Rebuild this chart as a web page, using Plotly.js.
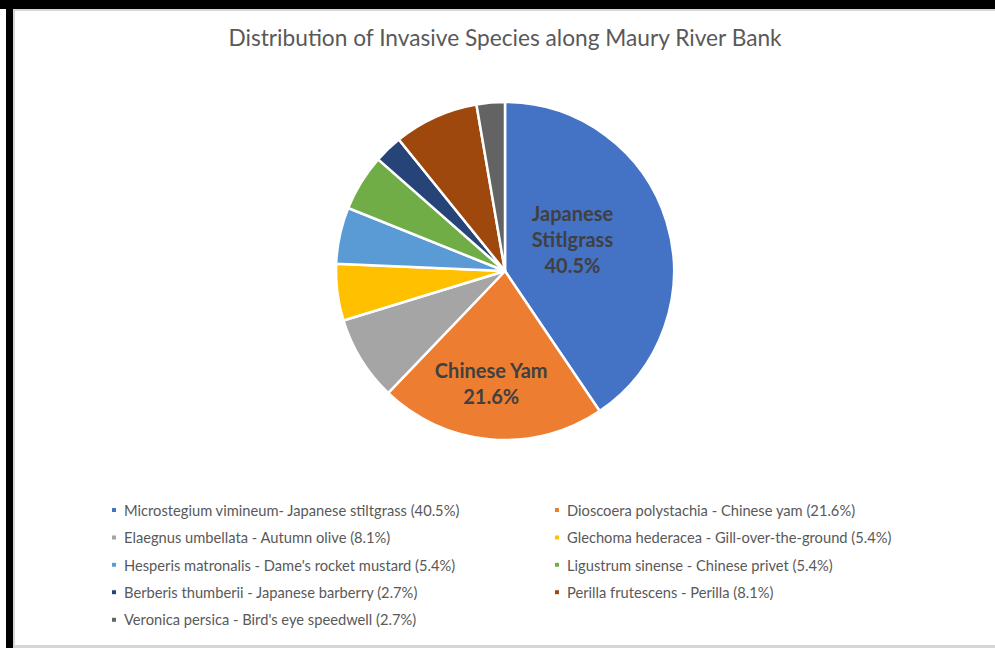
<!DOCTYPE html>
<html>
<head>
<meta charset="utf-8">
<script src="https://cdn.plot.ly/plotly-3.0.1.min.js"></script>
<style>
  html, body { margin: 0; padding: 0; background: #ffffff; overflow: hidden; }
  #page { position: relative; width: 995px; height: 648px; overflow: hidden; background: #ffffff; }
  #edgeTop { position: absolute; left: 0; top: 0; width: 995px; height: 9px; background: #000; z-index: 5; }
  #edgeLeft { position: absolute; left: 6px; top: 0; width: 7px; height: 648px; background: #000; z-index: 5; }
  #chart {
    position: absolute; left: 13px; top: 9px; width: 982px; height: 634px;
    border-top: 2px solid #d6d6d6; border-left: 2px solid #d6d6d6; border-bottom: 3px solid #d6d6d6;
    box-sizing: content-box;
  }
</style>
</head>
<body>
<div id="page">
  <div id="edgeTop"></div>
  <div id="edgeLeft"></div>
  <div id="chart"></div>
</div>
<script>
// Share of each invasive species (percent), clockwise from 12 o'clock
const species = [
  "Microstegium vimineum- Japanese stiltgrass",
  "Dioscoera polystachia - Chinese yam",
  "Elaegnus umbellata - Autumn olive",
  "Glechoma hederacea - Gill-over-the-ground",
  "Hesperis matronalis - Dame's rocket mustard",
  "Ligustrum sinense - Chinese privet",
  "Berberis thumberii - Japanese barberry",
  "Perilla frutescens - Perilla",
  "Veronica persica - Bird's eye speedwell"
];
const shares = [40.5, 21.6, 8.1, 5.4, 5.4, 5.4, 2.7, 8.1, 2.7];
const sliceNames = ["Japanese<br>Stitlgrass", "Chinese Yam", "", "", "", "", "", "", ""];
const colors = ["#4472C4", "#ED7D31", "#A5A5A5", "#FFC000", "#5B9BD5",
                "#70AD47", "#264478", "#9E480E", "#636363"];

const total = shares.reduce((a, b) => a + b, 0);
const legendLabels = species.map((s, i) => s + " (" + (shares[i] / total * 100).toFixed(1) + "%)");
const templates = sliceNames.map(n => n ? "<b>" + n + "<br>%{percent:.1%}</b>" : "");

const OX = 15, OY = 11;           // page offset of the plotting surface
const W = 982, H = 634;
const cx = 505 - OX, cy = 271 - OY, r = 169;
const FONT = "Lato, 'Open Sans', sans-serif";

// nudges for the in-slice labels, in px
const labelShift = [[-15, -7], [-5, 9]];

const trace = {
  type: "pie",
  labels: legendLabels,
  values: shares,
  sort: false,
  direction: "clockwise",
  rotation: 0,
  marker: { colors: colors, line: { color: "#ffffff", width: 2.5 } },
  texttemplate: templates,
  textposition: "inside",
  insidetextorientation: "horizontal",
  textfont: { family: FONT, size: 20, color: "#404040" },
  hoverinfo: "label",
  domain: {
    x: [(cx - r) / W, (cx + r) / W],
    y: [1 - (cy + r) / H, 1 - (cy - r) / H]
  }
};

const layout = {
  width: W, height: H,
  margin: { l: 0, r: 0, t: 0, b: 0 },
  paper_bgcolor: "#ffffff",
  title: {
    text: "Distribution of Invasive Species along Maury River Bank",
    font: { family: FONT, size: 22.7, color: "#595959" },
    x: (505 - OX) / W, xanchor: "center",
    y: 1 - (38 - OY) / H, yanchor: "middle"
  },
  showlegend: true,
  legend: {
    orientation: "h",
    x: (84 - OX) / W, xanchor: "left",
    y: 1 - (494 - OY) / H, yanchor: "top",
    entrywidth: 398, entrywidthmode: "pixels",
    traceorder: "normal",
    bgcolor: "rgba(0,0,0,0)",
    font: { family: FONT, size: 14.7, color: "#595959" }
  }
};

const ROW_STEP = 27.4;

Plotly.newPlot("chart", [trace], layout, { displayModeBar: false, staticPlot: true }).then(() => {
  const root = document.getElementById("chart");
  // small square swatches sitting close to their text
  root.querySelectorAll(".legendpoints path").forEach(p => {
    p.setAttribute("transform", "translate(30,0) scale(0.42)");
  });
  // wider spacing between legend rows
  const items = Array.from(root.querySelectorAll(".legend .traces"));
  const pos = items.map(g => {
    const m = /translate\(\s*([-\d.]+)[ ,]+([-\d.]+)\s*\)/.exec(g.getAttribute("transform") || "");
    return m ? [parseFloat(m[1]), parseFloat(m[2])] : [0, 0];
  });
  const rows = Array.from(new Set(pos.map(p => p[1]))).sort((a, b) => a - b);
  items.forEach((g, i) => {
    const row = rows.indexOf(pos[i][1]);
    g.setAttribute("transform", "translate(" + pos[i][0] + "," + (rows[0] + row * ROW_STEP) + ")");
  });
  root.querySelectorAll(".legend .scrollbox").forEach(s => s.removeAttribute("clip-path"));
  // nudge the two in-slice labels
  root.querySelectorAll(".pielayer .slice").forEach((s, i) => {
    if (!labelShift[i]) return;
    const t = s.querySelector(".slicetext text");
    if (!t) return;
    const prev = t.getAttribute("transform") || "";
    t.setAttribute("transform", "translate(" + labelShift[i][0] + "," + labelShift[i][1] + ") " + prev);
  });
});
</script>
</body>
</html>
